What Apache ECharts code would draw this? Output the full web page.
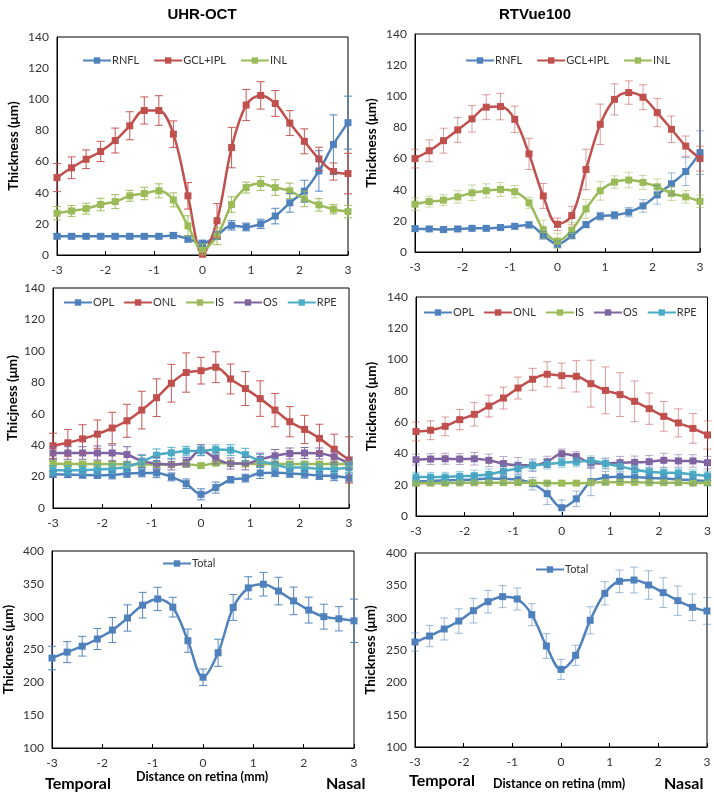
<!DOCTYPE html>
<html><head><meta charset="utf-8">
<script src="https://cdn.jsdelivr.net/npm/echarts@6/dist/echarts.min.js"></script>
<style>html,body{margin:0;padding:0;background:#fff}#c{width:714px;height:796px}</style>
</head><body><div id="c"></div>
<script>
const xs = [-3,-2.7,-2.4,-2.1,-1.8,-1.5,-1.2,-0.9,-0.6,-0.3,0,0.3,0.6,0.9,1.2,1.5,1.8,2.1,2.4,2.7,3];
const xTicks = [-3,-2,-1,0,1,2,3];

// UHR-OCT inner layers
const uhrRNFL = [12,12,12,12,12,12,12,12,12.5,10.3,7.5,12.5,19,18,20,25,33.5,41,54,71,85];
const uhrRNFLErr = [1.5,1.5,1.5,1.5,1.5,1.5,1.5,1.5,2,2,2,2.5,3,2.5,3,5,6,7,13,19,17];
const uhrGCL = [49.7,56,61.5,66.5,73.5,83,92.8,92.8,77.6,38,0.5,22,69,96.3,102.5,97.3,84.7,73,61.7,53.6,52.3];
const uhrGCLErr = [9,7,6,6.5,8,9,8.7,9.5,8.5,8.5,0.5,11,13,10,8.8,8.3,8,8,7.5,5.5,13];
const uhrINL = [26.8,28.3,29.8,32.4,34.3,38,39.5,41.2,35.4,18.7,3.6,12.2,32.4,43.3,45.9,43.3,41.2,36,32.2,29.4,27.9];
const uhrINLErr = [4.3,3.5,3.5,4,4.5,3.5,4,4.5,4.5,6.5,3.5,5.5,5,3.5,4.5,5,5,5,4,3,4];

// RTVue100 inner layers
const rtvRNFL = [15,14.8,14.4,14.8,15.2,15.2,15.7,16.5,17.4,10.7,5,10.5,17.6,23,23.6,25.6,29.6,36.7,43.8,51.7,63.8];
const rtvRNFLErr = [1.5,1.5,1.5,1.5,1.5,1.5,1.5,1.5,2,2.5,2,2,2,2.5,2.5,3,4,6,7,9,14];
const rtvGCL = [60,65,71.5,78.4,85.5,93,93.4,85.2,63,36,17.8,23.4,53,82,98,102.4,99.4,89.5,78.8,68,60];
const rtvGCLErr = [6,7,8,8,8.5,8,8.5,8.5,10,8,4,6,13,13,10,7.5,8,9,8.5,6.5,8];
const rtvINL = [30.7,32.4,33.3,35.4,38,39.3,40.2,38.7,31.6,14.4,7,14,27.7,39.3,44.9,46.2,44.7,41.9,37.6,35.4,32.6];
const rtvINLErr = [4,3.5,3.5,4,5,4.5,4.5,4,3.5,6,5,5,6,6,4,5,4.5,5,4.5,4,4];

// UHR-OCT outer layers
const uhrOPL = [21.5,21.3,21,20.9,21,22,22.3,22.3,19.8,15.5,8.7,13,18,19,22.3,22.5,22,21.5,20.6,20.4,19.1];
const uhrOPLErr = [2,2,2,2,2.5,2.5,2.5,3,2.5,3,3.5,3.5,2,2.5,3.5,2.5,2.5,2.5,2.5,3,2.5];
const uhrONL = [39.6,41.5,44,47,50.9,55.5,62.3,70.2,79.4,86.2,87.4,89.6,82.1,76,69.6,62.3,54.9,50,44.3,37.4,30.6];
const uhrONLErr = [8,8.5,9,9,10,10.5,12,12,12,12.5,8.5,9.8,9.5,10.8,11.3,10.6,9.6,9,9,9.6,14.7];
const uhrIS = [28.3,28,28,28,28,27.8,27.7,27.6,27.6,27.9,27,28.5,28.5,28,28,28,28,28,28,28,28];
const uhrISErr = [1.5,1.5,1.5,1.5,1.5,1.5,1.5,1.5,1.5,1.5,1.5,1.5,1.5,1.5,1.5,1.5,1.5,1.5,1.5,1.5,1.5];
const uhrOS = [35,35,35,35,35,34,29.8,28.3,27.7,29.1,36.8,31.5,28.3,28.3,30.9,33.2,34.7,35,34.7,32.6,28.3];
const uhrOSErr = [4,4,4,4.5,5,5,4,4,3.5,3,3.5,3.5,3.5,4,4,4,3.5,3.5,3.5,3.5,3.5];
const uhrRPE = [24,24,24,24.5,25,26.2,29.4,33.6,35.1,36.2,36.4,37.2,36.8,34,30,27.7,25.7,25.7,25,25,25.5];
const uhrRPEErr = [3,3,3,3,3,3,4,4,3.5,3,3,3,3.5,4,4,3.5,3,3,3,3,3];

// RTVue100 outer layers
const rtvOPL = [22,22.4,22.8,23,23.4,23.9,23.7,23.2,20.7,14.3,5.3,11,22,24.5,25.1,24.9,24.3,23.9,23.4,22.8,22.4];
const rtvOPLErr = [2.5,2.5,2.5,2.5,3,3,3,3,4,7,5,5,9,4,3,3,3,3,3,3,3];
const rtvONL = [54,54.8,57.3,61.6,65,70.3,75.4,81.8,87.4,90.6,89.7,89.3,84.6,80.3,77.6,73.3,68.6,63.7,59.5,56,51.8];
const rtvONLErr = [6,6,6,6.5,7.5,7,7,7,7,8,8,10,15,15,14,13,10,9.5,9,9.5,9];
const rtvIS = [21,21,21,21.2,21.2,21.3,21.3,21.3,21.3,21,21,21,21.3,21.5,21.5,21.5,21.3,21.3,21.3,21,21.2];
const rtvISErr = [1.5,1.5,1.5,1.5,1.5,1.5,1.5,1.5,1.5,1.5,1.5,1.5,1.5,1.5,1.5,1.5,1.5,1.5,1.5,1.5,1.5];
const rtvOS = [36,36.4,36.6,36.4,36.6,35.6,33.5,32.4,32.4,34.7,39.8,38.1,33.9,33.5,34.1,34.3,34.7,35.6,35.2,35.2,34.1];
const rtvOSErr = [3.5,3.5,3.5,3.5,4,4,4.5,5,4,3.5,3,3,3.5,3.5,4,4,4,4.5,4,4,4];
const rtvRPE = [24.9,24.9,24.9,25.4,25.8,26.6,28.6,30.3,32.2,33,34.1,34.5,35.4,33.5,31.7,29.6,28.3,27.7,27.5,26.6,25.6];
const rtvRPEErr = [3,3,3,3,3.5,3.5,4,4,3,3,3,3,3,3,3,3,3,3,3,3,3];

// Total
const uhrTotal = [237,246,255,266,279.6,298,317.5,327,314.5,263.4,207.7,245,314,343.8,349.4,339,324,310,300,296.8,293.7];
const uhrTotalErr = [18,16,15,16,19,20,19.5,17.7,15,17.7,12.6,20.7,19.7,17,18,21,21,19.7,19,18.5,33];
const rtvTotal = [262.4,271.6,282.5,294.8,310.8,324.7,332.5,328.9,304.6,256.2,220,241.8,295.9,337.6,356.2,358.2,350.5,338.7,326.3,316,310.3];
const rtvTotalErr = [14,16.5,17,19,19,17.5,17,17,17,19,15.5,15.5,21,18,17.5,20,22,23,22.7,20.6,20.6];

const C = {RNFL:'#4F81BD','GCL+IPL':'#C0504D',INL:'#9BBB59',OPL:'#4F81BD',ONL:'#C0504D',IS:'#9BBB59',OS:'#8064A2',RPE:'#4BACC6',Total:'#4F81BD'};
const FONT = 'Lato';

const panels = [
  {grid:{left:57,top:37,width:291,height:218}, y:[0,140,20], yname:'Thickness (μm)', gap:36, errOp:0.95,
   legend:{left:82,top:55,gap:14}, series:[['RNFL',uhrRNFL,uhrRNFLErr],['GCL+IPL',uhrGCL,uhrGCLErr],['INL',uhrINL,uhrINLErr]]},
  {grid:{left:415,top:34,width:285,height:218}, y:[0,140,20], yname:'Thickness (μm)', gap:36, errOp:0.55,
   legend:{left:465,top:55,gap:14}, series:[['RNFL',rtvRNFL,rtvRNFLErr],['GCL+IPL',rtvGCL,rtvGCLErr],['INL',rtvINL,rtvINLErr]]},
  {grid:{left:53,top:288,width:296,height:220}, y:[0,140,20], yname:'Thicjness (μm)', gap:33, errOp:0.95,
   legend:{left:63,top:297,gap:9}, series:[['OPL',uhrOPL,uhrOPLErr],['ONL',uhrONL,uhrONLErr],['IS',uhrIS,uhrISErr],['OS',uhrOS,uhrOSErr],['RPE',uhrRPE,uhrRPEErr]]},
  {grid:{left:416,top:297,width:292,height:219}, y:[0,140,20], yname:'Thickness (μm)', gap:37, errOp:0.55,
   legend:{left:423,top:307,gap:9}, series:[['OPL',rtvOPL,rtvOPLErr],['ONL',rtvONL,rtvONLErr],['IS',rtvIS,rtvISErr],['OS',rtvOS,rtvOSErr],['RPE',rtvRPE,rtvRPEErr]]},
  {grid:{left:52,top:551,width:302,height:197}, y:[100,400,50], yname:'Thickness (μm)', gap:36, errOp:0.95,
   legend:{left:162,top:558,gap:10}, series:[['Total',uhrTotal,uhrTotalErr]]},
  {grid:{left:415,top:553,width:292,height:194}, y:[100,400,50], yname:'Thickness (μm)', gap:37, errOp:0.55,
   legend:{left:535,top:564,gap:10}, series:[['Total',rtvTotal,rtvTotalErr]]}
];

const grids=[], xAxes=[], yAxes=[], legends=[], series=[];
panels.forEach((p,gi)=>{
  grids.push(Object.assign({show:true,borderColor:'#000',borderWidth:1,backgroundColor:'transparent'},p.grid));
  xAxes.push({type:'value',gridIndex:gi,min:-3,max:3,interval:1,
    axisLine:{show:true,onZero:false,lineStyle:{color:'#000',width:1}},
    axisTick:{show:true,inside:true,length:4,lineStyle:{color:'#000'}},
    axisLabel:{color:'#333',fontSize:12,fontFamily:FONT,margin:9},
    splitLine:{show:false}});
  yAxes.push({type:'value',gridIndex:gi,min:p.y[0],max:p.y[1],interval:p.y[2],
    axisLine:{show:true,onZero:false,lineStyle:{color:'#000',width:1}},
    axisTick:{show:false},
    axisLabel:{color:'#333',fontSize:12,fontFamily:FONT,margin:8},
    splitLine:{show:false},
    name:p.yname,nameLocation:'middle',nameGap:p.gap,nameRotate:90,
    nameTextStyle:{fontWeight:'bold',fontSize:13.5,fontFamily:FONT,color:'#000'}});
  legends.push({left:p.legend.left,top:p.legend.top,width:320,orient:'horizontal',itemWidth:28,itemHeight:8,itemGap:p.legend.gap,
    selectedMode:false,data:p.series.map(s=>s[0]),padding:0,
    textStyle:{fontSize:11,fontFamily:FONT,color:'#333',padding:[0,0,0,-4]}});
  p.series.forEach(([name,vals,errs])=>{
    const col=C[name];
    series.push({type:'line',name:name,xAxisIndex:gi,yAxisIndex:gi,smooth:0.35,
      data:xs.map((x,i)=>[x,vals[i]]),symbol:'rect',symbolSize:7,showSymbol:true,
      lineStyle:{color:col,width:2.5},itemStyle:{color:col},z:3});
    const ec = echarts.color.modifyAlpha(col,p.errOp);
    series.push({type:'custom',name:name+' error',xAxisIndex:gi,yAxisIndex:gi,z:4,silent:true,
      data:xs.map((x,i)=>[x,vals[i]-errs[i],vals[i]+errs[i]]),
      encode:{x:0,y:[1,2]},
      renderItem:function(params,api){
        const x=api.value(0), lo=api.value(1), hi=api.value(2);
        const a=api.coord([x,lo]), b=api.coord([x,hi]);
        const w=4;
        const st={stroke:ec,lineWidth:1};
        return {type:'group',children:[
          {type:'line',shape:{x1:a[0],y1:a[1],x2:b[0],y2:b[1]},style:st},
          {type:'line',shape:{x1:a[0]-w,y1:a[1],x2:a[0]+w,y2:a[1]},style:st},
          {type:'line',shape:{x1:b[0]-w,y1:b[1],x2:b[0]+w,y2:b[1]},style:st}
        ]};
      }});
  });
});

const chart = echarts.init(document.getElementById('c'),null,{renderer:'canvas'});
chart.setOption({
  animation:false,
  backgroundColor:'#fff',
  title:[
    {text:'UHR-OCT',left:197,top:2,textAlign:'center',textStyle:{fontFamily:'Liberation Sans',fontWeight:'bold',fontSize:15,color:'#000'}},
    {text:'RTVue100',left:530,top:2,textAlign:'center',textStyle:{fontFamily:'Liberation Sans',fontWeight:'bold',fontSize:15,color:'#000'}}
  ],
  grid:grids, xAxis:xAxes, yAxis:yAxes, legend:legends, series:series,
  graphic:[
    {type:'text',left:45,top:776,style:{text:'Temporal',font:'bold 16px '+FONT,fill:'#000'}},
    {type:'text',left:136,top:770,style:{text:'Distance on retina (mm)',font:'bold 12.5px '+FONT,fill:'#000'}},
    {type:'text',left:326,top:776,style:{text:'Nasal',font:'bold 16px '+FONT,fill:'#000'}},
    {type:'text',left:409,top:773,style:{text:'Temporal',font:'bold 16px '+FONT,fill:'#000'}},
    {type:'text',left:493,top:777,style:{text:'Distance on retina (mm)',font:'bold 12.5px '+FONT,fill:'#000'}},
    {type:'text',left:664,top:776,style:{text:'Nasal',font:'bold 16px '+FONT,fill:'#000'}}
  ]
});
</script></body></html>
